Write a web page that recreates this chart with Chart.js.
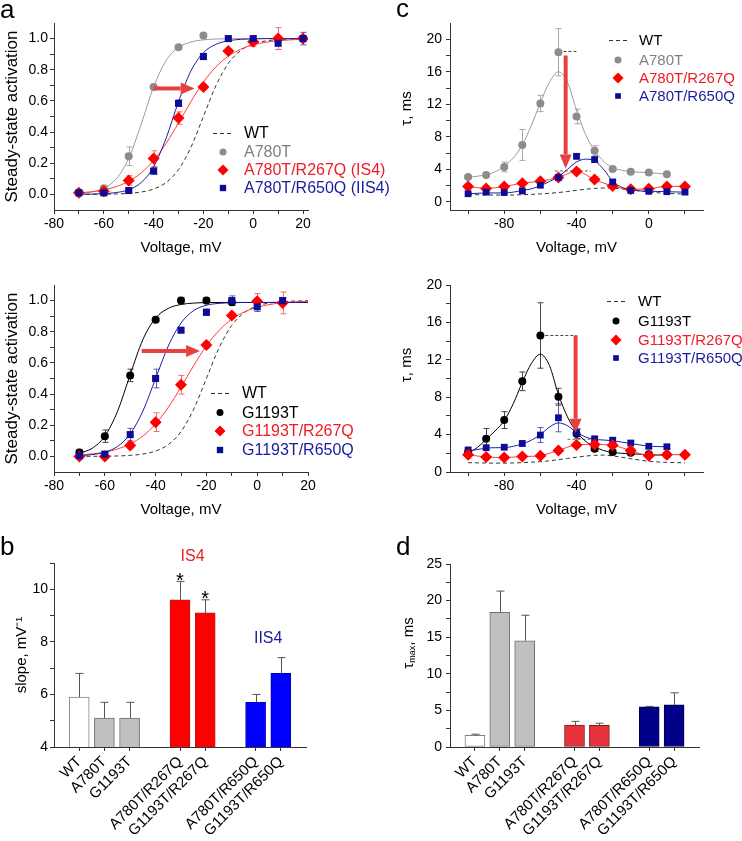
<!DOCTYPE html>
<html lang="en">
<head>
<meta charset="UTF-8">
<title>Activation and kinetics panels</title>
<script src="https://cdn.jsdelivr.net/npm/chart.js"></script>
<style>
  body { margin: 0; background: #fff; }
  #fig { position: relative; width: 742px; height: 841px; overflow: hidden; }
  #fig canvas { position: absolute; }
</style>
</head>
<body>
<div id="fig">
  <canvas id="pC1" width="371" height="260" style="left:371px;top:0"></canvas>
  <canvas id="pC2" width="371" height="260" style="left:371px;top:260px"></canvas>
  <canvas id="pD" width="371" height="321" style="left:371px;top:520px"></canvas>
  <canvas id="pA1" width="400" height="260" style="left:0;top:0"></canvas>
  <canvas id="pA2" width="400" height="260" style="left:0;top:260px"></canvas>
  <canvas id="pB" width="371" height="321" style="left:0;top:520px"></canvas>
</div>
<script>
// ---- steady-state activation (panel a) ----
const actV = [-70, -60, -50, -40, -30, -20, -10, 0, 10, 20];
const actA780T = [0.01, 0.04, 0.245, 0.69, 0.945, 1.02, null, null, null, null];
const errA780T = [0.01, 0.01, 0.06, 0.01, 0.01, 0.01, null, null, null, null];
const actA780T_R267Q = [0.01, 0.02, 0.09, 0.23, 0.49, 0.69, 0.92, 0.98, 1.0, 1.0];
const errA780T_R267Q = [0.01, 0.01, 0.03, 0.05, 0.04, 0.02, 0.01, 0.03, 0.07, 0.02];
const actA780T_R650Q = [0.01, 0.01, 0.025, 0.15, 0.585, 0.885, 1.0, 1.0, 0.97, 1.0];
const errA780T_R650Q = [0.01, 0.01, 0.01, 0.02, 0.02, 0.02, 0.01, 0.01, 0.04, 0.04];

const actG1193T = [0.025, 0.13, 0.52, 0.877, 1.0, 1.0, 0.99, null, null, null];
const errG1193T = [0.02, 0.04, 0.04, 0.01, 0.02, 0.02, 0.02, null, null, null];
const actG1193T_R267Q = [0.0, 0.0, 0.07, 0.22, 0.46, 0.715, 0.905, 0.995, 0.985, null];
const errG1193T_R267Q = [0.01, 0.01, 0.02, 0.06, 0.06, 0.02, 0.02, 0.05, 0.07, null];
const actG1193T_R650Q = [0.005, 0.015, 0.14, 0.5, 0.81, 0.925, 1.0, 0.96, 1.0, null];
const errG1193T_R650Q = [0.01, 0.01, 0.04, 0.06, 0.01, 0.02, 0.03, 0.03, 0.02, null];

// fitted curves, every 5 mV
const fitV = [-70, -65, -60, -55, -50, -45, -40, -35, -30, -25, -20, -15, -10, -5, 0, 5, 10, 15, 20];
const fitWT = [0.0002, 0.0006, 0.0013, 0.0029, 0.0067, 0.0153, 0.0344, 0.0759, 0.159, 0.303, 0.5, 0.697, 0.841, 0.924, 0.966, 0.985, 0.993, 0.997, 0.999];
const fitA780T = [0.0055, 0.0148, 0.039, 0.0997, 0.231, 0.45, 0.69, 0.858, 0.943, 0.978, 0.992, 0.997, 0.999, 1.0, 1.0, 1.0, 1.0, 1.0, 1.0];
const fitA780T_R267Q = [0.0098, 0.017, 0.0293, 0.05, 0.084, 0.138, 0.218, 0.327, 0.458, 0.596, 0.72, 0.818, 0.887, 0.932, 0.96, 0.976, 0.986, 0.992, 0.995];
const fitA780T_R650Q = [0.0007, 0.0018, 0.0046, 0.0118, 0.0304, 0.0759, 0.177, 0.36, 0.595, 0.793, 0.91, 0.963, 0.986, 0.995, 0.998, 1.0, 1.0, 1.0, 1.0];
const fitG1193T = [0.02, 0.052, 0.13, 0.289, 0.525, 0.75, 0.888, 0.95, 0.975, 0.984, 0.987, 0.988, 0.988, 0.988, 0.988, 0.988, 0.988, 0.988, 0.988];
const fitG1193T_R267Q = [0.0093, 0.0161, 0.0278, 0.0474, 0.08, 0.131, 0.209, 0.315, 0.445, 0.583, 0.709, 0.809, 0.881, 0.928, 0.957, 0.975, 0.986, 0.992, 0.995];
const fitG1193T_R650Q = [0.0047, 0.0114, 0.0273, 0.064, 0.144, 0.291, 0.5, 0.709, 0.856, 0.936, 0.97, 0.982, 0.986, 0.988, 0.988, 0.988, 0.988, 0.988, 0.988];

// ---- time constants (panel c) ----
const tauV = [-100, -90, -80, -70, -60, -50, -40, -30, -20, -10, 0, 10, 20];
const tauA780T = [3.05, 3.3, 4.3, 7.0, 12.1, 18.4, 10.5, 6.3, 4.05, 3.7, 3.6, 3.4, null];
const tErrA780T = [0.2, 0.2, 0.6, 1.9, 1.0, 2.9, 0.9, 0.6, 0.2, 0.2, 0.2, 0.2, null];
const tauA780T_R267Q = [1.9, 1.65, 1.9, 2.3, 2.55, 3.0, 3.75, 2.75, 1.95, 1.55, 1.6, 1.9, 1.9];
const tErrA780T_R267Q = [0.2, 0.2, 0.2, 0.2, 0.2, 0.2, 0.3, 0.3, 0.2, 0.2, 0.2, 0.2, 0.2];
const tauA780T_R650Q = [1.0, 1.2, 1.15, 1.35, 2.05, 3.0, 5.6, 5.2, 2.45, 1.4, 1.3, 1.25, 1.2];
const tErrA780T_R650Q = [0.15, 0.15, 0.15, 0.2, 0.2, 0.2, 0.3, 0.3, 0.2, 0.15, 0.15, 0.15, 0.15];

const tauG1193T = [2.1, 3.55, 5.55, 9.7, 14.6, 8.05, 4.1, 2.5, 2.15, 2.05, 1.9, 1.85, null];
const tErrG1193T = [0.3, 1.1, 0.9, 1.0, 3.5, 0.9, 0.5, 0.3, 0.2, 0.2, 0.2, 0.2, null];
const tauG1193T_R267Q = [1.85, 1.6, 1.55, 1.65, 1.75, 2.3, 2.9, 2.95, 2.85, 2.3, 1.75, 1.85, 1.85];
const tErrG1193T_R267Q = [0.4, 0.2, 0.2, 0.2, 0.2, 0.2, 0.2, 0.2, 0.2, 0.2, 0.2, 0.2, 0.2];
const tauG1193T_R650Q = [2.35, 2.6, 2.65, 3.05, 3.95, 5.8, 4.2, 3.55, 3.4, 3.1, 2.75, 2.7, null];
const tErrG1193T_R650Q = [0.3, 0.2, 0.2, 0.3, 0.8, 1.5, 0.4, 0.2, 0.2, 0.2, 0.2, 0.2, null];

const tauFitV = [-100, -95, -90, -85, -80, -75, -70, -65, -60, -55, -50, -45, -40, -35, -30, -25, -20, -15, -10, -5, 0, 5, 10, 15, 20];
const tauFitWT1 = [0.9, 0.88, 0.85, 0.84, 0.84, 0.85, 0.88, 0.92, 0.98, 1.05, 1.15, 1.28, 1.42, 1.55, 1.65, 1.7, 1.68, 1.6, 1.5, 1.35, 1.22, 1.12, 1.05, 1.0, 0.98];
const tauFitA780T = [3.0, 3.15, 3.35, 3.7, 4.4, 5.4, 7.0, 9.4, 12.2, 14.7, 16.0, 14.7, 11.3, 8.3, 6.3, 5.0, 4.2, 3.9, 3.7, 3.65, 3.6, 3.5, 3.4, null, null];
const tauFitA780T_R650Q = [1.0, 1.05, 1.1, 1.1, 1.1, 1.2, 1.4, 1.6, 2.0, 2.5, 3.1, 4.0, 4.9, 5.25, 5.05, 4.0, 2.55, 1.8, 1.5, 1.35, 1.3, 1.28, 1.25, 1.22, 1.2];
const tauFitWT2 = [1.0, 0.98, 0.96, 0.95, 0.95, 0.97, 1.0, 1.05, 1.1, 1.2, 1.32, 1.45, 1.58, 1.7, 1.78, 1.8, 1.72, 1.58, 1.42, 1.28, 1.15, 1.08, 1.03, 1.0, 0.98];
const tauFitG1193T = [2.0, 2.6, 3.5, 4.4, 5.5, 7.3, 9.6, 11.6, 12.6, 11.4, 8.3, 5.9, 4.3, 3.3, 2.7, 2.3, 2.1, 2.0, 1.95, 1.9, 1.85, 1.82, 1.8, null, null];
const tauFitG1193T_R650Q = [2.25, 2.4, 2.55, 2.6, 2.6, 2.75, 3.0, 3.4, 4.0, 4.8, 5.25, 4.95, 4.25, 3.75, 3.5, 3.42, 3.35, 3.2, 3.05, 2.9, 2.75, 2.72, 2.7, null, null];

// dotted guides from tau max to the double mutant
const guideTop1V = [-50, -40], guideTop1 = [18.5, 18.5];
const guideTop2V = [-52, -32], guideTop2 = [3.8, 3.8];
const guideBot1V = [-60, -40], guideBot1 = [14.6, 14.6];
const guideBot2V = [-45, -29], guideBot2 = [3.5, 3.5];

// ---- bar panels (b, d) ----
const barSlot = [1, 2, 3, 5, 6, 8, 9];
const barLabels = ['WT', 'A780T', 'G1193T', 'A780T/R267Q', 'G1193T/R267Q', 'A780T/R650Q', 'G1193T/R650Q'];
const slope = [5.9, 5.1, 5.1, 9.6, 9.1, 5.7, 6.8];
const slopeErr = [0.9, 0.6, 0.6, 0.7, 0.5, 0.3, 0.6];
const tauMax = [1.6, 18.4, 14.5, 3.0, 2.95, 5.5, 5.75];
const tauMaxErr = [0.15, 2.9, 3.5, 0.5, 0.3, 0.05, 1.65];

// ticks
const actTicksX = [-80, -70, -60, -50, -40, -30, -20, -10, 0, 10, 20];
const actTicksY = [0, 0.1, 0.2, 0.3, 0.4, 0.5, 0.6, 0.7, 0.8, 0.9, 1.0];
const tauTicksX = [-100, -80, -60, -40, -20, 0, 20];
const tauTicksY = [0, 2, 4, 6, 8, 10, 12, 14, 16, 18, 20];
const slopeTicks = [4, 5, 6, 7, 8, 9, 10, 11];
const tauMaxTicks = [0, 2.5, 5, 7.5, 10, 12.5, 15, 17.5, 20, 22.5, 25];

const FONT = 'Arial, "Liberation Sans", Helvetica, sans-serif';
Chart.defaults.font.family = FONT;
Chart.defaults.color = '#000';

const GRAY = '#8c8c8c', RED = '#ff0000', BLUE = '#0c0c96', BLACK = '#000000';
const ARROW = '#e8403f';

function pairs(xs, ys) { return xs.map((x, i) => ({ x: x, y: ys[i] })); }
function major(step) { return v => Math.abs(v / step - Math.round(v / step)) < 1e-6; }

function marks(xs, ys, errs, color, errColor, style, r) {
  return { data: pairs(xs, ys), errs: errs, errColor: errColor, errCap: 3, showLine: false,
    pointStyle: style, pointRadius: r, pointBackgroundColor: color, pointBorderColor: color, pointBorderWidth: 0 };
}
function curve(xs, ys, color, dash) {
  return { data: pairs(xs, ys), showLine: true, pointRadius: 0, borderColor: color, borderWidth: 1,
    borderDash: dash || [], cubicInterpolationMode: 'monotone', fill: false };
}

function axis(o) {
  return {
    type: 'linear', position: o.pos, min: o.min, max: o.max, offset: false,
    afterBuildTicks: s => { s.ticks = o.ticks.map(v => ({ value: v })); },
    afterFit: s => { if (o.pos === 'left') s.width = o.size; else s.height = o.size; },
    ticks: { autoSkip: false, minRotation: o.rot || 0, maxRotation: o.rot || 0, padding: o.pad,
      color: '#000', font: { size: o.fontSize || 14 }, callback: o.label },
    grid: { drawOnChartArea: false, drawTicks: true, tickLength: 4, color: '#333', offset: false },
    border: { display: true, color: '#333', width: 1 },
    title: { display: !!o.title, text: o.title || '', color: '#000', font: { size: o.titleSize || 15 },
      padding: { top: o.titlePad || 0, bottom: o.titlePad || 0 } }
  };
}

// error bars, drawn under markers for xy panels and over bars for bar panels
function drawErr(chart, onTop) {
  const ctx = chart.ctx, sy = chart.scales.y;
  chart.data.datasets.forEach((ds, i) => {
    if (!ds.errs || !!ds.errOnTop !== onTop) return;
    const meta = chart.getDatasetMeta(i);
    ctx.save();
    ctx.strokeStyle = ds.errColor;
    ctx.lineWidth = 1;
    meta.data.forEach((el, j) => {
      const e = ds.errs[j], v = ds.data[j].y;
      if (e == null || v == null) return;
      const x = Math.round(el.x) + 0.5, cap = ds.errCap;
      const hi = sy.getPixelForValue(v + e);
      const lo = sy.getPixelForValue(ds.errUpOnly ? v : v - e);
      ctx.beginPath();
      ctx.moveTo(x, lo); ctx.lineTo(x, hi);
      ctx.moveTo(x - cap, hi); ctx.lineTo(x + cap, hi);
      if (!ds.errUpOnly) { ctx.moveTo(x - cap, lo); ctx.lineTo(x + cap, lo); }
      ctx.stroke();
    });
    ctx.restore();
  });
}
const errorBars = {
  id: 'errorBars',
  beforeDatasetsDraw(chart) { drawErr(chart, false); },
  afterDatasetsDraw(chart) { drawErr(chart, true); }
};

function drawMark(ctx, kind, x, y, r, color) {
  ctx.fillStyle = color;
  ctx.beginPath();
  if (kind === 'circle') ctx.arc(x, y, r, 0, Math.PI * 2);
  else if (kind === 'rectRot') { ctx.moveTo(x, y - r); ctx.lineTo(x + r, y); ctx.lineTo(x, y + r); ctx.lineTo(x - r, y); ctx.closePath(); }
  else { const h = r * Math.SQRT1_2; ctx.rect(x - h, y - h, 2 * h, 2 * h); }
  ctx.fill();
}

function drawArrow(ctx, x1, y1, x2, y2) {
  const a = Math.atan2(y2 - y1, x2 - x1), len = 14, hw = 6;
  const bx = x2 - len * Math.cos(a), by = y2 - len * Math.sin(a);
  ctx.strokeStyle = ARROW; ctx.fillStyle = ARROW; ctx.lineWidth = 4;
  ctx.beginPath(); ctx.moveTo(x1, y1); ctx.lineTo(bx, by); ctx.stroke();
  ctx.beginPath();
  ctx.moveTo(x2, y2);
  ctx.lineTo(bx + hw * Math.sin(a), by - hw * Math.cos(a));
  ctx.lineTo(bx - hw * Math.sin(a), by + hw * Math.cos(a));
  ctx.closePath(); ctx.fill();
}

// legends, arrows, notes, panel letters and custom y titles
const decor = {
  id: 'decor',
  afterDatasetsDraw(chart, args, o) {
    const ctx = chart.ctx, sx = chart.scales.x, sy = chart.scales.y;
    ctx.save();
    (o.arrows || []).forEach(a => drawArrow(ctx,
      sx.getPixelForValue(a.from[0]), sy.getPixelForValue(a.from[1]),
      sx.getPixelForValue(a.to[0]), sy.getPixelForValue(a.to[1])));
    ctx.restore();
  },
  afterDraw(chart, args, o) {
    const ctx = chart.ctx, sx = chart.scales.x, sy = chart.scales.y;
    ctx.save();
    if (o.letter) {
      ctx.font = '26px ' + FONT; ctx.fillStyle = '#000';
      ctx.textAlign = 'left'; ctx.textBaseline = 'alphabetic';
      ctx.fillText(o.letter.text, o.letter.x, o.letter.y);
    }
    if (o.legend) {
      const L = o.legend;
      ctx.font = (L.size || 15) + 'px ' + FONT; ctx.textAlign = 'left'; ctx.textBaseline = 'middle';
      L.items.forEach(it => {
        if (it.kind === 'dash') {
          ctx.strokeStyle = '#333'; ctx.lineWidth = 1; ctx.setLineDash([4, 3]);
          ctx.beginPath(); ctx.moveTo(L.dash[0], it.y + 0.5); ctx.lineTo(L.dash[1], it.y + 0.5); ctx.stroke();
          ctx.setLineDash([]);
        } else {
          drawMark(ctx, it.kind, L.markX, it.y, it.r, it.color);
        }
        ctx.fillStyle = it.textColor;
        ctx.fillText(it.text, L.textX, it.y + 1);
      });
    }
    (o.notes || []).forEach(n => {
      ctx.font = n.size + 'px ' + FONT; ctx.fillStyle = n.color;
      ctx.textAlign = 'center'; ctx.textBaseline = n.base || 'middle';
      ctx.fillText(n.text, sx.getPixelForValue(n.x), sy.getPixelForValue(n.y));
    });
    if (o.yTitle) {
      const t = o.yTitle;
      ctx.translate(t.x, t.y); ctx.rotate(-Math.PI / 2);
      ctx.fillStyle = '#000'; ctx.textBaseline = 'middle'; ctx.textAlign = 'left';
      let total = 0;
      t.parts.forEach(p => { ctx.font = p.size + 'px ' + FONT; total += ctx.measureText(p.s).width; });
      let x = -total / 2;
      t.parts.forEach(p => {
        ctx.font = p.size + 'px ' + FONT;
        ctx.fillText(p.s, x, p.dy || 0);
        x += ctx.measureText(p.s).width;
      });
    }
    ctx.restore();
  }
};

function xyChart(id, o) {
  return new Chart(document.getElementById(id), {
    type: 'scatter',
    data: { datasets: o.datasets },
    options: {
      responsive: false, animation: false, events: [], devicePixelRatio: 1,
      layout: { padding: { top: o.top, right: o.right, left: 0, bottom: 0 } },
      plugins: { legend: { display: false }, tooltip: { enabled: false }, decor: o.decor },
      scales: { x: axis(o.x), y: axis(o.y) }
    },
    plugins: [errorBars, decor]
  });
}

const actLabelX = v => major(20)(v) ? String(v) : '';
const actLabelY = v => major(0.2)(v) ? v.toFixed(1) : '';
const tauLabelX = v => major(40)(v) ? String(v) : '';
const tauLabelY = v => major(4)(v) ? String(v) : '';

// panel a, top
xyChart('pA1', {
  top: 23, right: 92,
  x: { pos: 'bottom', min: -80, max: 22, ticks: actTicksX, label: actLabelX, size: 50, pad: 2, title: 'Voltage, mV', titlePad: 3 },
  y: { pos: 'left', min: -0.1, max: 1.1, ticks: actTicksY, label: actLabelY, size: 54, pad: 2, title: 'Steady-state activation', titlePad: 2, titleSize: 17 },
  datasets: [
    marks(actV, actA780T_R650Q, errA780T_R650Q, BLUE, '#5a5ab8', 'rect', 5),
    marks(actV, actA780T_R267Q, errA780T_R267Q, RED, '#ff6a6a', 'rectRot', 6),
    marks(actV, actA780T, errA780T, GRAY, '#a8a8a8', 'circle', 4),
    curve(fitV, fitA780T_R650Q, '#1c1ca8'),
    curve(fitV, fitA780T_R267Q, '#ff3a3a'),
    curve(fitV, fitA780T, '#9a9a9a'),
    curve(fitV, fitWT, '#333', [4, 3])
  ],
  decor: {
    letter: { text: 'a', x: 0, y: 18 },
    arrows: [{ from: [-40, 0.68], to: [-23.5, 0.68] }],
    legend: { size: 16, textX: 244, markX: 223, dash: [213, 233], items: [
      { kind: 'dash', y: 133, text: 'WT', textColor: '#000' },
      { kind: 'circle', y: 152, r: 3.5, color: GRAY, text: 'A780T', textColor: '#808080' },
      { kind: 'rectRot', y: 170, r: 5.5, color: RED, text: 'A780T/R267Q (IS4)', textColor: '#ee1c25' },
      { kind: 'rect', y: 188, r: 4.5, color: BLUE, text: 'A780T/R650Q (IIS4)', textColor: '#1b1b9e' }
    ] }
  }
});

// panel a, bottom
xyChart('pA2', {
  top: 25, right: 92,
  x: { pos: 'bottom', min: -80, max: 20, ticks: actTicksX, label: actLabelX, size: 48, pad: 2, title: 'Voltage, mV', titlePad: 1 },
  y: { pos: 'left', min: -0.1, max: 1.1, ticks: actTicksY, label: actLabelY, size: 54, pad: 2, title: 'Steady-state activation', titlePad: 2, titleSize: 17 },
  datasets: [
    marks(actV, actG1193T_R650Q, errG1193T_R650Q, BLUE, '#5a5ab8', 'rect', 5),
    marks(actV, actG1193T_R267Q, errG1193T_R267Q, RED, '#ff6a6a', 'rectRot', 6),
    marks(actV, actG1193T, errG1193T, BLACK, '#444', 'circle', 4),
    curve(fitV, fitG1193T_R650Q, '#1c1ca8'),
    curve(fitV, fitG1193T_R267Q, '#ff3a3a'),
    curve(fitV, fitG1193T, '#000'),
    curve(fitV, fitWT, '#333', [4, 3])
  ],
  decor: {
    arrows: [{ from: [-45.5, 0.677], to: [-22.5, 0.677] }],
    legend: { size: 16, textX: 242, markX: 220, dash: [211, 231], items: [
      { kind: 'dash', y: 133, text: 'WT', textColor: '#000' },
      { kind: 'circle', y: 152.5, r: 3.5, color: BLACK, text: 'G1193T', textColor: '#000' },
      { kind: 'rectRot', y: 171, r: 5.5, color: RED, text: 'G1193T/R267Q', textColor: '#ee1c25' },
      { kind: 'rect', y: 190, r: 4.5, color: BLUE, text: 'G1193T/R650Q', textColor: '#1b1b9e' }
    ] }
  }
});

// panel c, top
xyChart('pC1', {
  top: 23, right: 39,
  x: { pos: 'bottom', min: -110, max: 30, ticks: tauTicksX, label: tauLabelX, size: 50, pad: 2, title: 'Voltage, mV', titlePad: 3 },
  y: { pos: 'left', min: -1, max: 22, ticks: tauTicksY, label: tauLabelY, size: 79, pad: 4 },
  datasets: [
    marks(tauV, tauA780T_R650Q, tErrA780T_R650Q, BLUE, '#5a5ab8', 'rect', 4.8),
    marks(tauV, tauA780T_R267Q, tErrA780T_R267Q, RED, '#ff6a6a', 'rectRot', 6),
    marks(tauV, tauA780T, tErrA780T, GRAY, '#a8a8a8', 'circle', 4),
    curve(tauFitV, tauFitA780T_R650Q, '#1c1ca8'),
    curve(tauV, tauA780T_R267Q, '#ff3a3a'),
    curve(tauFitV, tauFitA780T, '#9a9a9a'),
    curve(tauFitV, tauFitWT1, '#333', [4, 3]),
    curve(guideTop1V, guideTop1, '#444', [3, 2]),
    curve(guideTop2V, guideTop2, '#666', [3, 2])
  ],
  decor: {
    letter: { text: 'c', x: 25, y: 17 },
    arrows: [{ from: [-46, 18.0], to: [-46, 4.1] }],
    yTitle: { x: 36, y: 108.5, parts: [{ s: 'τ, ms', size: 15 }] },
    legend: { textX: 268, markX: 247, dash: [238, 257], items: [
      { kind: 'dash', y: 40, text: 'WT', textColor: '#000' },
      { kind: 'circle', y: 60, r: 3.5, color: GRAY, text: 'A780T', textColor: '#808080' },
      { kind: 'rectRot', y: 78, r: 5.5, color: RED, text: 'A780T/R267Q', textColor: '#ee1c25' },
      { kind: 'rect', y: 96, r: 4, color: BLUE, text: 'A780T/R650Q', textColor: '#1b1b9e' }
    ] }
  }
});

// panel c, bottom
xyChart('pC2', {
  top: 25, right: 39,
  x: { pos: 'bottom', min: -110, max: 30, ticks: tauTicksX, label: tauLabelX, size: 48, pad: 2, title: 'Voltage, mV', titlePad: 1 },
  y: { pos: 'left', min: 0, max: 20, ticks: tauTicksY, label: tauLabelY, size: 79, pad: 4 },
  datasets: [
    marks(tauV, tauG1193T_R267Q, tErrG1193T_R267Q, RED, '#ff6a6a', 'rectRot', 6),
    marks(tauV, tauG1193T_R650Q, tErrG1193T_R650Q, BLUE, '#5a5ab8', 'rect', 4.8),
    marks(tauV, tauG1193T, tErrG1193T, BLACK, '#444', 'circle', 4),
    curve(tauFitV, tauFitG1193T_R650Q, '#1c1ca8'),
    curve(tauV, tauG1193T_R267Q, '#ff3a3a'),
    curve(tauFitV, tauFitG1193T, '#000'),
    curve(tauFitV, tauFitWT2, '#333', [4, 3]),
    curve(guideBot1V, guideBot1, '#444', [3, 2]),
    curve(guideBot2V, guideBot2, '#666', [3, 2])
  ],
  decor: {
    arrows: [{ from: [-40.5, 14.6], to: [-40.5, 4.2] }],
    yTitle: { x: 36, y: 105, parts: [{ s: 'τ, ms', size: 15 }] },
    legend: { textX: 267, markX: 245, dash: [236, 257], items: [
      { kind: 'dash', y: 41, text: 'WT', textColor: '#000' },
      { kind: 'circle', y: 61, r: 3.5, color: BLACK, text: 'G1193T', textColor: '#000' },
      { kind: 'rectRot', y: 80, r: 5.5, color: RED, text: 'G1193T/R267Q', textColor: '#ee1c25' },
      { kind: 'rect', y: 98, r: 4, color: BLUE, text: 'G1193T/R650Q', textColor: '#1b1b9e' }
    ] }
  }
});

function barChart(id, o) {
  return new Chart(document.getElementById(id), {
    type: 'bar',
    data: { datasets: [{
      data: pairs(barSlot, o.values), backgroundColor: o.fill, borderColor: o.edge, borderWidth: 1,
      borderSkipped: false, barThickness: 20, errs: o.errs, errUpOnly: true, errOnTop: true,
      errColor: '#555', errCap: 4
    }] },
    options: {
      responsive: false, animation: false, events: [], devicePixelRatio: 1,
      layout: { padding: { top: o.top, right: o.right, left: 0, bottom: 0 } },
      plugins: { legend: { display: false }, tooltip: { enabled: false }, decor: o.decor },
      scales: {
        x: axis({ pos: 'bottom', min: 0, max: 10, ticks: barSlot, size: 94, pad: 2, rot: 45, fontSize: 15,
          label: v => barLabels[barSlot.indexOf(v)] || '' }),
        y: axis(o.y)
      }
    },
    plugins: [errorBars, decor]
  });
}

// panel b
barChart('pB', {
  top: 43, right: 65, values: slope, errs: slopeErr,
  fill: ['#ffffff', '#c0c0c0', '#c0c0c0', '#ff0000', '#ff0000', '#0000ff', '#0000ff'],
  edge: ['#808080', '#707070', '#707070', '#c01818', '#c01818', '#0000b0', '#0000b0'],
  y: { pos: 'left', min: 4, max: 11, ticks: slopeTicks, label: v => major(2)(v) ? String(v) : '', size: 54, pad: 2,
    title: 'slope, mV⁻¹', titlePad: 12.7 },
  decor: {
    letter: { text: 'b', x: 0, y: 35 },
    notes: [
      { text: 'IS4', x: 5.5, y: 11.24, size: 16, color: '#ee1c25' },
      { text: 'IIS4', x: 8.5, y: 8.11, size: 16, color: '#1b1b9e' },
      { text: '*', x: 5, y: 10.1, size: 20, color: '#000', base: 'alphabetic' },
      { text: '*', x: 6, y: 9.41, size: 20, color: '#000', base: 'alphabetic' }
    ]
  }
});

// panel d
barChart('pD', {
  top: 44, right: 43, values: tauMax, errs: tauMaxErr,
  fill: ['#ffffff', '#c0c0c0', '#c0c0c0', '#e6323a', '#e6323a', '#000088', '#000088'],
  edge: ['#808080', '#707070', '#707070', '#7a1c1c', '#7a1c1c', '#000040', '#000040'],
  y: { pos: 'left', min: 0, max: 25, ticks: tauMaxTicks, label: v => major(5)(v) ? String(v) : '', size: 79, pad: 4 },
  decor: {
    letter: { text: 'd', x: 25, y: 35 },
    yTitle: { x: 38, y: 123, parts: [{ s: 'τ', size: 15 }, { s: 'max', size: 9, dy: 4 }, { s: ', ms', size: 15 }] }
  }
});
</script>
</body>
</html>
